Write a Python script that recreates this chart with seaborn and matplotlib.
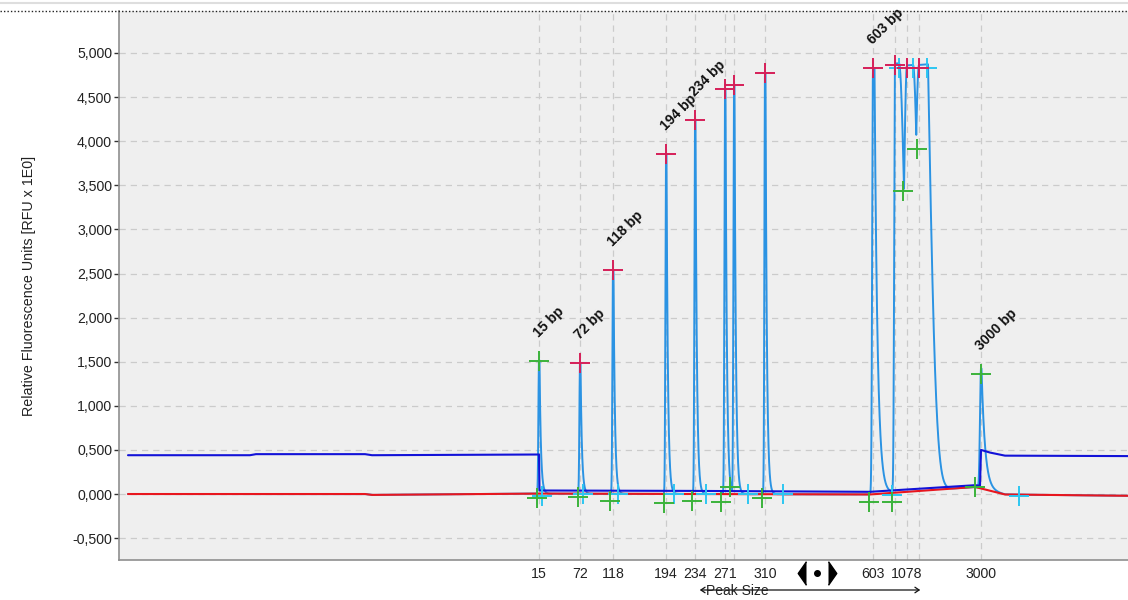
import numpy as np
import pandas as pd
import matplotlib
matplotlib.use("Agg")
import matplotlib.pyplot as plt
from matplotlib.lines import Line2D
from matplotlib.patches import FancyArrowPatch
from matplotlib.ticker import FuncFormatter
import seaborn as sns

# ---------------------------------------------------------------- data
# Ladder fragments (bp), their migration scan position and peak height (RFU)
ladder_bp = [15, 72, 118, 194, 234, 271, 281, 310, 603, 872, 1078, 1353, 3000]
peak_scan = [539, 580, 613, 666, 695, 725, 734, 765, 873, 895, 907, 919, 981]
peak_rfu = [1510, 1485, 2540, 3855, 4245, 4590, 4640, 4775, 4830, 4865, 4835, 4830, 1360]
peak_labels = ["15 bp", "72 bp", "118 bp", "194 bp", "234 bp", "", "", "",
               "603 bp", "", "", "", "3000 bp"]
size_marker = [True, False, False, False, False, False, False, False,
               False, False, False, False, True]
shown_tick = [True, True, True, True, True, True, False, True,
              True, False, True, False, True]

# Peak shape: rising-edge sd, flat top width, exponential tail, gaussian tail
peak_rise_sd = [0.6, 0.6, 0.6, 0.6, 0.6, 0.6, 0.6, 0.6, 0.8, 0.8, 3.6, 4.6, 1.0]
peak_flat = [0.5, 0.5, 0.5, 0.5, 0.5, 0.5, 0.5, 0.5, 1.5, 4.0, 6.0, 9.0, 0.5]
peak_tail_tau = [1.4, 1.4, 1.4, 1.4, 1.4, 1.4, 1.4, 1.4, 3.0, np.inf, np.inf, 8.0, 3.5]
peak_tail_sd = [np.inf] * 9 + [6.0, 5.4, 8.0, np.inf]

# Integration start / end points of each peak (scan, RFU)
start_scan = [537, 578, 610, 664, 692, 721, 730, 762, 869, 892, 903, 917, 975]
start_rfu = [-45, -35, -80, -100, -80, -90, 80, -50, -90, -90, 3440, 3910, 80]
end_scan = [542, 583, 618, 674, 706, 730, 748, 783, 892, 899, 913, 927, 1019]
end_rfu = [-20, 0, 0, 0, 0, 80, 0, 0, -10, 4830, 4830, 4830, -20]

# Baseline traces (vertices)
blue_scan = [128, 250, 256, 365, 372, 539, 539.5, 700, 870, 975, 980, 981, 990, 1005, 1128]
blue_rfu = [440, 440, 452, 452, 440, 448, 40, 35, 25, 100, 95, 500, 470, 435, 430]
red_scan = [128, 365, 372, 540, 700, 870, 975, 1005, 1128]
red_rfu = [0, 0, -10, 5, 0, -5, 80, -5, -20]

# ---------------------------------------------------------------- signal
scan = np.arange(128, 1128.01, 0.05)
envelope = np.zeros_like(scan)
for p, h, sr, fl, tau, sg in zip(peak_scan, peak_rfu, peak_rise_sd, peak_flat,
                                 peak_tail_tau, peak_tail_sd):
    d = scan - p
    left = np.exp(-0.5 * (np.minimum(d, 0) / sr) ** 2)
    dr = np.clip(d - fl, 0, None)
    right = np.exp(-dr / tau - 0.5 * (dr / sg) ** 2)
    shape = np.where(d < 0, left, right)
    envelope = np.maximum(envelope, h * shape)
signal = np.interp(scan, red_scan, red_rfu) + envelope
trace = pd.DataFrame({"scan": scan, "rfu": signal})

# ---------------------------------------------------------------- figure
sns.set_theme(style="white")
plt.rcParams["font.family"] = ["Liberation Sans", "DejaVu Sans"]

W, H = 1128, 600
fig = plt.figure(figsize=(W / 100, H / 100), dpi=100)
ax = fig.add_axes([119 / W, 40 / H, 1009 / W, 549 / H])
ax.set_facecolor("#efefef")

C_TRACE = "#2b93e3"
C_BLUE = "#1212d8"
C_RED = "#e8161e"
C_PEAK = "#d61f58"
C_START = "#3bb33b"
C_END = "#2cc6f2"

sns.lineplot(data=trace, x="scan", y="rfu", ax=ax, color=C_TRACE, lw=1.4,
             estimator=None, sort=False, zorder=3)
sns.lineplot(x=red_scan, y=red_rfu, ax=ax, color=C_RED, lw=1.5,
             estimator=None, sort=False, zorder=4)
sns.lineplot(x=blue_scan, y=blue_rfu, ax=ax, color=C_BLUE, lw=1.5,
             estimator=None, sort=False, zorder=4)

# peak-top, start and end crosses
top_color = [C_START if m else C_PEAK for m in size_marker]
for x, y, c in zip(peak_scan, peak_rfu, top_color):
    ax.plot(x, y, marker="+", ms=15, mew=1.4, color=c, zorder=6)
sns.scatterplot(x=end_scan, y=end_rfu, ax=ax, marker="+", s=190, linewidth=1.4,
                color=C_END, zorder=5)
sns.scatterplot(x=start_scan, y=start_rfu, ax=ax, marker="+", s=210, linewidth=1.4,
                color=C_START, zorder=5)

for x, y, lab in zip(peak_scan, peak_rfu, peak_labels):
    if lab:
        ax.annotate(lab, (x, y), xytext=(1.5, 15), textcoords="offset points",
                    rotation=45, rotation_mode="anchor", ha="left", va="bottom",
                    fontsize=10, fontweight="bold", color="#111111", zorder=7)

# axes
ax.set_xlim(119, 1128)
ax.set_ylim(-748, 5476)
ax.set_xticks(peak_scan)
ax.set_xticklabels([str(b) if s else "" for b, s in zip(ladder_bp, shown_tick)])
ax.set_yticks(np.arange(-500, 5001, 500))
ax.yaxis.set_major_formatter(FuncFormatter(lambda v, _: f"{v / 1000:.3f}".replace(".", ",")))
ax.tick_params(axis="x", length=0, pad=5, labelsize=10.2, labelcolor="#222222")
ax.tick_params(axis="y", length=3.5, width=1, color="#333333", pad=1.5,
               labelsize=10.2, labelcolor="#222222", left=True)
ax.grid(True, linestyle=(0, (5, 4)), color="#cbcbcb", lw=0.9)
ax.set_axisbelow(True)
ax.set_xlabel("")
ax.set_ylabel("Relative Fluorescence Units [RFU x 1E0]", fontsize=10.3,
              color="#222222", labelpad=26)
for side in ("top", "right"):
    ax.spines[side].set_visible(False)
for side in ("left", "bottom"):
    ax.spines[side].set_color("#8f8f8f")
    ax.spines[side].set_linewidth(1.2)

# frame lines at the top of the panel
fig.add_artist(Line2D([0, 1], [1 - 3 / H] * 2, transform=fig.transFigure,
                      color="#dedede", lw=1.5))
fig.add_artist(Line2D([0, 1], [1 - 11 / H] * 2, transform=fig.transFigure,
                      color="#222222", lw=1, linestyle=(0, (1, 1.5))))

# navigation control under the axis
ny = 1 - 573 / H
tri_left = [(0.0, 1.0), (-0.7, 0.0), (0.0, -1.0)]
tri_right = [(0.0, 1.0), (0.7, 0.0), (0.0, -1.0)]
fig.add_artist(Line2D([806 / W], [ny], transform=fig.transFigure, marker=tri_left,
                      ms=17, color="black", mec="black"))
fig.add_artist(Line2D([817 / W], [ny], transform=fig.transFigure, marker="o",
                      ms=4, color="black"))
fig.add_artist(Line2D([828 / W], [ny], transform=fig.transFigure, marker=tri_right,
                      ms=17, color="black", mec="black"))

# peak-size axis caption with arrow
fig.add_artist(FancyArrowPatch((697 / W, 1 - 590 / H), (923 / W, 1 - 590 / H),
                               transform=fig.transFigure, arrowstyle="<->,head_length=3,head_width=2",
                               color="#111111", lw=0.9))
fig.text(737 / W, 1 - 591 / H, "Peak Size", ha="center", va="center",
         fontsize=10, color="#222222")

fig.savefig("out.png", dpi=100)
